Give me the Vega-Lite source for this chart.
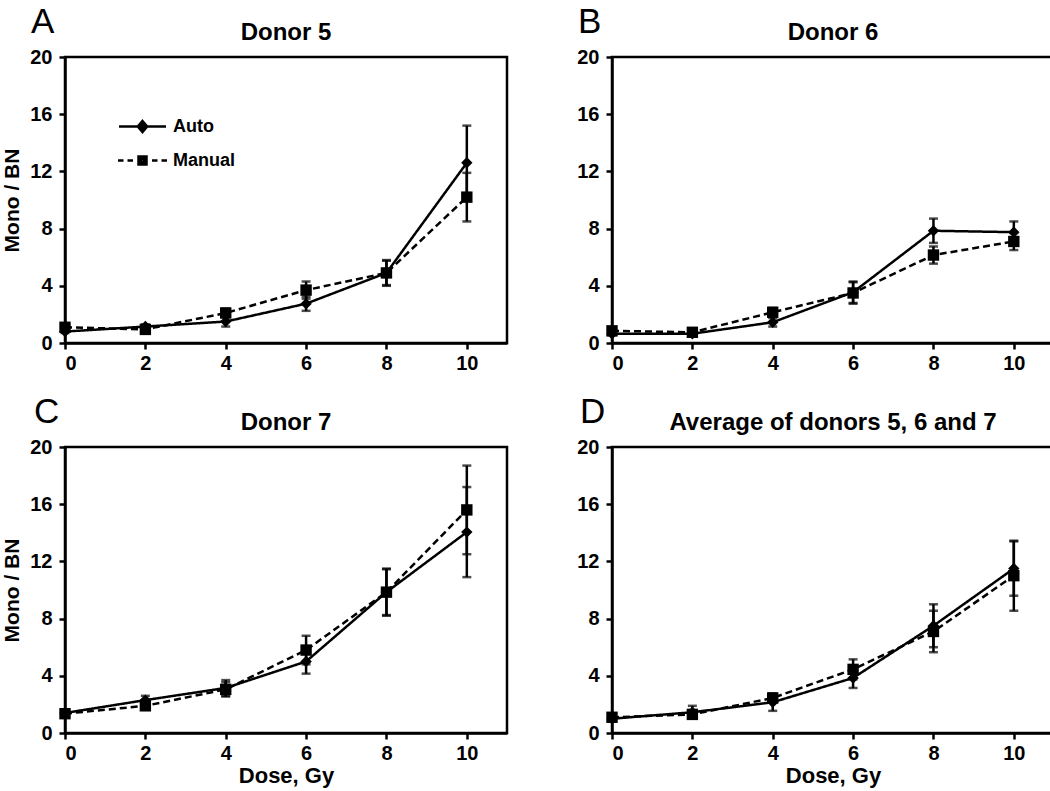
{
  "$schema": "https://vega.github.io/schema/vega-lite/v6.json",
  "background": "white",
  "padding": {"left": 0, "top": 4, "right": 0, "bottom": 0},
  "datasets": {
    "d": [
      {"panel": "A", "dose": 0, "method": "Auto", "value": 0.8, "err": 0.1},
      {"panel": "A", "dose": 2, "method": "Auto", "value": 1.15, "err": 0.15},
      {"panel": "A", "dose": 4, "method": "Auto", "value": 1.5, "err": 0.35},
      {"panel": "A", "dose": 6, "method": "Auto", "value": 2.75, "err": 0.5},
      {"panel": "A", "dose": 8, "method": "Auto", "value": 4.9, "err": 0.9},
      {"panel": "A", "dose": 10, "method": "Auto", "value": 12.6, "err": 2.6},
      {"panel": "A", "dose": 0, "method": "Manual", "value": 1.1, "err": 0.15},
      {"panel": "A", "dose": 2, "method": "Manual", "value": 0.95, "err": 0.1},
      {"panel": "A", "dose": 4, "method": "Manual", "value": 2.1, "err": 0.3},
      {"panel": "A", "dose": 6, "method": "Manual", "value": 3.7, "err": 0.6},
      {"panel": "A", "dose": 8, "method": "Manual", "value": 4.9, "err": 0.85},
      {"panel": "A", "dose": 10, "method": "Manual", "value": 10.2, "err": 1.7},
      {"panel": "B", "dose": 0, "method": "Auto", "value": 0.65, "err": 0.1},
      {"panel": "B", "dose": 2, "method": "Auto", "value": 0.65, "err": 0.1},
      {"panel": "B", "dose": 4, "method": "Auto", "value": 1.45, "err": 0.3},
      {"panel": "B", "dose": 6, "method": "Auto", "value": 3.55, "err": 0.75},
      {"panel": "B", "dose": 8, "method": "Auto", "value": 7.85, "err": 0.85},
      {"panel": "B", "dose": 10, "method": "Auto", "value": 7.75, "err": 0.75},
      {"panel": "B", "dose": 0, "method": "Manual", "value": 0.85, "err": 0.1},
      {"panel": "B", "dose": 2, "method": "Manual", "value": 0.75, "err": 0.1},
      {"panel": "B", "dose": 4, "method": "Manual", "value": 2.15, "err": 0.3},
      {"panel": "B", "dose": 6, "method": "Manual", "value": 3.5, "err": 0.75},
      {"panel": "B", "dose": 8, "method": "Manual", "value": 6.15, "err": 0.6},
      {"panel": "B", "dose": 10, "method": "Manual", "value": 7.1, "err": 0.6},
      {"panel": "C", "dose": 0, "method": "Auto", "value": 1.4, "err": 0.1},
      {"panel": "C", "dose": 2, "method": "Auto", "value": 2.3, "err": 0.3},
      {"panel": "C", "dose": 4, "method": "Auto", "value": 3.15, "err": 0.55},
      {"panel": "C", "dose": 6, "method": "Auto", "value": 5.0, "err": 0.85},
      {"panel": "C", "dose": 8, "method": "Auto", "value": 9.85, "err": 1.6},
      {"panel": "C", "dose": 10, "method": "Auto", "value": 14.05, "err": 3.15},
      {"panel": "C", "dose": 0, "method": "Manual", "value": 1.35, "err": 0.1},
      {"panel": "C", "dose": 2, "method": "Manual", "value": 1.9, "err": 0.2},
      {"panel": "C", "dose": 4, "method": "Manual", "value": 3.05, "err": 0.5},
      {"panel": "C", "dose": 6, "method": "Manual", "value": 5.8, "err": 1.0},
      {"panel": "C", "dose": 8, "method": "Manual", "value": 9.85, "err": 1.65},
      {"panel": "C", "dose": 10, "method": "Manual", "value": 15.6, "err": 3.1},
      {"panel": "D", "dose": 0, "method": "Auto", "value": 1.0, "err": 0.1},
      {"panel": "D", "dose": 2, "method": "Auto", "value": 1.45, "err": 0.45},
      {"panel": "D", "dose": 4, "method": "Auto", "value": 2.15, "err": 0.6},
      {"panel": "D", "dose": 6, "method": "Auto", "value": 3.85, "err": 0.7},
      {"panel": "D", "dose": 8, "method": "Auto", "value": 7.5, "err": 1.5},
      {"panel": "D", "dose": 10, "method": "Auto", "value": 11.5, "err": 1.9},
      {"panel": "D", "dose": 0, "method": "Manual", "value": 1.1, "err": 0.1},
      {"panel": "D", "dose": 2, "method": "Manual", "value": 1.3, "err": 0.3},
      {"panel": "D", "dose": 4, "method": "Manual", "value": 2.45, "err": 0.3},
      {"panel": "D", "dose": 6, "method": "Manual", "value": 4.45, "err": 0.7},
      {"panel": "D", "dose": 8, "method": "Manual", "value": 7.1, "err": 1.45},
      {"panel": "D", "dose": 10, "method": "Manual", "value": 11.0, "err": 2.45}
    ]
  },
  "spacing": 19,
  "vconcat": [
    {
      "spacing": 66,
      "hconcat": [
        {
          "title": {"text": "A", "anchor": "start", "frame": "group", "dx": -34, "offset": -20, "font": "Liberation Sans", "fontSize": 35, "fontWeight": "normal"},
          "vconcat": [
            {
              "title": {"text": "Donor 5"},
              "width": 442, "height": 286,
              "data": {"name": "d"},
              "transform": [{"filter": "datum.panel === 'A'"}],
              "encoding": {
                "x": {"field": "dose", "type": "quantitative", "scale": {"domain": [0, 11]}, "axis": {"values": [0, 2, 4, 6, 8, 10], "title": null}}
              },
              "layer": [
                {"mark": {"type": "line", "color": "black", "strokeWidth": 2.5},
                 "encoding": {"y": {"field": "value", "type": "quantitative", "title": "Mono / BN", "scale": {"domain": [0, 20]}, "axis": {"values": [0, 4, 8, 12, 16, 20]}},
                              "strokeDash": {"field": "method", "type": "nominal", "scale": {"domain": ["Auto", "Manual"], "range": [[1, 0], [7, 4]]}, "legend": null}}},
                {"mark": {"type": "errorbar", "color": "black", "ticks": true, "thickness": 2.5, "size": 9},
                 "encoding": {"y": {"field": "value", "type": "quantitative", "title": "Mono / BN"}, "yError": {"field": "err"}, "detail": {"field": "method"}}},
                {"mark": {"type": "point", "filled": true, "color": "black", "opacity": 1, "size": 130},
                 "encoding": {"y": {"field": "value", "type": "quantitative", "title": "Mono / BN"},
                              "shape": {"field": "method", "type": "nominal", "scale": {"domain": ["Auto", "Manual"], "range": ["diamond", "square"]}, "legend": null}}},
                {"transform": [{"filter": "datum.dose < 0"}],
                 "mark": {"type": "point", "filled": false, "color": "black", "strokeWidth": 2.5, "opacity": 1, "size": 400},
                 "encoding": {"y": {"field": "value", "type": "quantitative", "title": "Mono / BN"},
                              "shape": {"field": "method", "type": "nominal",
                                        "scale": {"domain": ["Auto", "Manual"], "range": ["M-2.35,0L2.35,0M0,-0.55L0.47,0L0,0.55L-0.47,0ZM0,-0.26L0.22,0L0,0.26L-0.22,0ZM-0.1,0L0.1,0", "M-2.45,0L-1.9,0M-1.5,0L-0.95,0M0.95,0L1.5,0M1.9,0L2.45,0M-0.4,-0.4L0.4,-0.4L0.4,0.4L-0.4,0.4ZM-0.15,-0.15L0.15,-0.15L0.15,0.15L-0.15,0.15Z"]},
                                        "legend": {"title": null, "orient": "none", "legendX": 66, "legendY": 58, "symbolSize": 400, "symbolStrokeColor": "black", "symbolStrokeWidth": 2.5, "symbolOpacity": 1, "labelFont": "Liberation Sans", "labelFontSize": 18, "labelFontWeight": "bold", "labelColor": "black", "labelOffset": 19, "rowPadding": 12, "padding": 0}}}}
              ],
              "resolve": {"scale": {"shape": "independent", "strokeDash": "independent"}}
            }
          ]
        },
        {
          "title": {"text": "B", "anchor": "start", "frame": "group", "dx": -34, "offset": -20, "font": "Liberation Sans", "fontSize": 35, "fontWeight": "normal"},
          "vconcat": [
            {
              "title": {"text": "Donor 6"},
              "width": 442, "height": 286,
              "data": {"name": "d"},
              "transform": [{"filter": "datum.panel === 'B'"}],
              "encoding": {
                "x": {"field": "dose", "type": "quantitative", "scale": {"domain": [0, 11]}, "axis": {"values": [0, 2, 4, 6, 8, 10], "title": null}}
              },
              "layer": [
                {"mark": {"type": "line", "color": "black", "strokeWidth": 2.5},
                 "encoding": {"y": {"field": "value", "type": "quantitative", "title": null, "scale": {"domain": [0, 20]}, "axis": {"values": [0, 4, 8, 12, 16, 20]}},
                              "strokeDash": {"field": "method", "type": "nominal", "scale": {"domain": ["Auto", "Manual"], "range": [[1, 0], [7, 4]]}, "legend": null}}},
                {"mark": {"type": "errorbar", "color": "black", "ticks": true, "thickness": 2.5, "size": 9},
                 "encoding": {"y": {"field": "value", "type": "quantitative", "title": null}, "yError": {"field": "err"}, "detail": {"field": "method"}}},
                {"mark": {"type": "point", "filled": true, "color": "black", "opacity": 1, "size": 130},
                 "encoding": {"y": {"field": "value", "type": "quantitative", "title": null},
                              "shape": {"field": "method", "type": "nominal", "scale": {"domain": ["Auto", "Manual"], "range": ["diamond", "square"]}, "legend": null}}}
              ]
            }
          ]
        }
      ]
    },
    {
      "spacing": 66,
      "hconcat": [
        {
          "title": {"text": "C", "anchor": "start", "frame": "group", "dx": -31, "offset": -20, "font": "Liberation Sans", "fontSize": 35, "fontWeight": "normal"},
          "vconcat": [
            {
              "title": {"text": "Donor 7"},
              "width": 442, "height": 286,
              "data": {"name": "d"},
              "transform": [{"filter": "datum.panel === 'C'"}],
              "encoding": {
                "x": {"field": "dose", "type": "quantitative", "scale": {"domain": [0, 11]}, "axis": {"values": [0, 2, 4, 6, 8, 10], "title": "Dose, Gy"}}
              },
              "layer": [
                {"mark": {"type": "line", "color": "black", "strokeWidth": 2.5},
                 "encoding": {"y": {"field": "value", "type": "quantitative", "title": "Mono / BN", "scale": {"domain": [0, 20]}, "axis": {"values": [0, 4, 8, 12, 16, 20]}},
                              "strokeDash": {"field": "method", "type": "nominal", "scale": {"domain": ["Auto", "Manual"], "range": [[1, 0], [7, 4]]}, "legend": null}}},
                {"mark": {"type": "errorbar", "color": "black", "ticks": true, "thickness": 2.5, "size": 9},
                 "encoding": {"y": {"field": "value", "type": "quantitative", "title": "Mono / BN"}, "yError": {"field": "err"}, "detail": {"field": "method"}}},
                {"mark": {"type": "point", "filled": true, "color": "black", "opacity": 1, "size": 130},
                 "encoding": {"y": {"field": "value", "type": "quantitative", "title": "Mono / BN"},
                              "shape": {"field": "method", "type": "nominal", "scale": {"domain": ["Auto", "Manual"], "range": ["diamond", "square"]}, "legend": null}}}
              ]
            }
          ]
        },
        {
          "title": {"text": "D", "anchor": "start", "frame": "group", "dx": -32, "offset": -20, "font": "Liberation Sans", "fontSize": 35, "fontWeight": "normal"},
          "vconcat": [
            {
              "title": {"text": "Average of donors 5, 6 and 7"},
              "width": 442, "height": 286,
              "data": {"name": "d"},
              "transform": [{"filter": "datum.panel === 'D'"}],
              "encoding": {
                "x": {"field": "dose", "type": "quantitative", "scale": {"domain": [0, 11]}, "axis": {"values": [0, 2, 4, 6, 8, 10], "title": "Dose, Gy"}}
              },
              "layer": [
                {"mark": {"type": "line", "color": "black", "strokeWidth": 2.5},
                 "encoding": {"y": {"field": "value", "type": "quantitative", "title": null, "scale": {"domain": [0, 20]}, "axis": {"values": [0, 4, 8, 12, 16, 20]}},
                              "strokeDash": {"field": "method", "type": "nominal", "scale": {"domain": ["Auto", "Manual"], "range": [[1, 0], [7, 4]]}, "legend": null}}},
                {"mark": {"type": "errorbar", "color": "black", "ticks": true, "thickness": 2.5, "size": 9},
                 "encoding": {"y": {"field": "value", "type": "quantitative", "title": null}, "yError": {"field": "err"}, "detail": {"field": "method"}}},
                {"mark": {"type": "point", "filled": true, "color": "black", "opacity": 1, "size": 130},
                 "encoding": {"y": {"field": "value", "type": "quantitative", "title": null},
                              "shape": {"field": "method", "type": "nominal", "scale": {"domain": ["Auto", "Manual"], "range": ["diamond", "square"]}, "legend": null}}}
              ]
            }
          ]
        }
      ]
    }
  ],
  "resolve": {"scale": {"shape": "independent", "strokeDash": "independent"}, "legend": {"shape": "independent"}},
  "config": {
    "font": "Liberation Sans",
    "view": {"stroke": "black", "strokeWidth": 2.5},
    "axis": {"domainColor": "black", "domainWidth": 2.5, "tickColor": "black", "tickWidth": 2.5, "tickSize": 6, "grid": false,
             "labelFont": "Liberation Sans", "labelFontSize": 20, "labelFontWeight": "bold", "labelColor": "black", "labelPadding": 7,
             "titleFont": "Liberation Sans", "titleFontSize": 21, "titleFontWeight": "bold", "titleColor": "black", "titlePadding": 7},
    "axisX": {"titlePadding": 2, "titleFontSize": 22, "labelPadding": 4},
    "title": {"font": "Liberation Sans", "fontSize": 24, "fontWeight": "bold", "color": "black", "offset": 2}
  }
}
